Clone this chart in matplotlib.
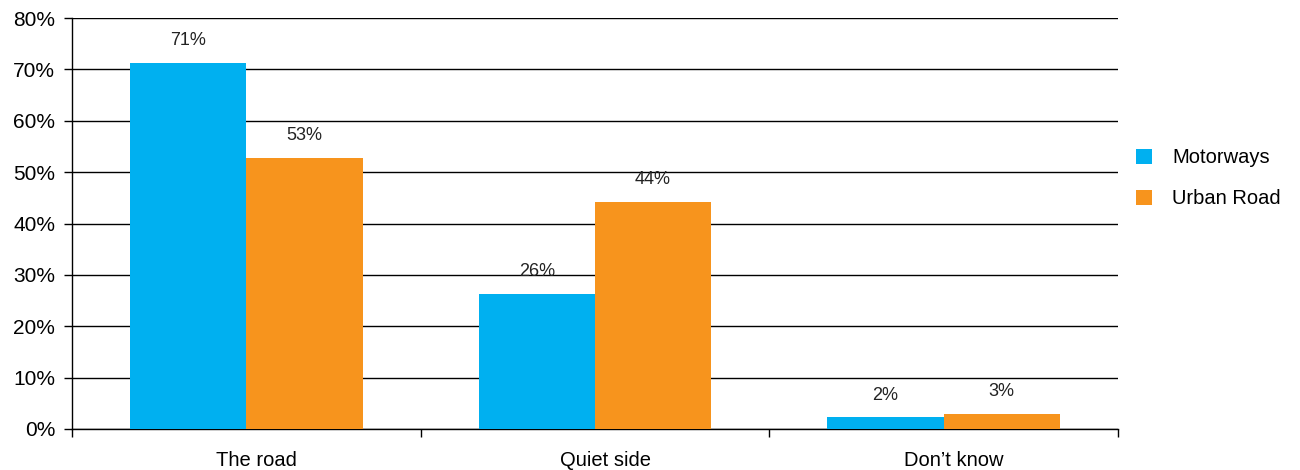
import matplotlib
matplotlib.use('Agg')
from matplotlib import pyplot as plt
from matplotlib.ticker import FuncFormatter
import numpy as np

categories = ['The road', 'Quiet side', "Don\u2019t know"]
motorways = [71.3, 26.3, 2.3]
urban_road = [52.8, 44.2, 3.0]
motorways_labels = ['71%', '26%', '2%']
urban_labels = ['53%', '44%', '3%']
series_names = ['Motorways', 'Urban Road']

plt.rcParams['font.family'] = ['Liberation Sans', 'DejaVu Sans']
plt.rcParams['font.size'] = 12

fig = plt.figure(figsize=(13, 4.7), dpi=100)
ax = fig.add_axes([72 / 1300, 1 - 429 / 470, (1118 - 72) / 1300, (429 - 18) / 470])

x = np.arange(len(categories))
w = 1 / 3
b1 = ax.bar(x - w / 2, motorways, w, color='#00B0F0', label=series_names[0], zorder=3)
b2 = ax.bar(x + w / 2, urban_road, w, color='#F7941D', label=series_names[1], zorder=3)

for bars, labs in ((b1, motorways_labels), (b2, urban_labels)):
    for r, lab in zip(bars, labs):
        ax.text(r.get_x() + r.get_width() / 2, r.get_height() + 4.3, lab,
                ha='center', va='center', fontsize=13, color='#222222')

ax.set_xlim(-0.5, len(categories) - 0.5)
ax.set_ylim(0, 80)
ax.set_yticks(np.arange(0, 81, 10))
ax.yaxis.set_major_formatter(FuncFormatter(lambda v, p: f'{v:.0f}%'))
ax.tick_params(axis='y', length=6, width=1, pad=6, labelsize=15)
ax.yaxis.grid(True, color='black', linewidth=1, zorder=0)

# category labels between boundary ticks
ax.set_xticks(np.arange(-0.5, len(categories), 1))
ax.set_xticklabels([])
ax.set_xticks(x + 0.03, minor=True)
ax.set_xticklabels(categories, minor=True, fontsize=14.5)
ax.tick_params(axis='x', which='major', length=6, width=1, direction='out')
ax.tick_params(axis='x', which='minor', length=0, pad=16)

for s in ('top', 'right'):
    ax.spines[s].set_visible(False)
for s in ('left', 'bottom'):
    ax.spines[s].set_linewidth(1)

ax.legend(loc='center left', bbox_to_anchor=(1.0, 0.61), frameon=False,
          fontsize=14.5, handlelength=0.8, handleheight=0.8, labelspacing=1.1,
          handletextpad=1.0)

fig.savefig('out.png', dpi=100)
